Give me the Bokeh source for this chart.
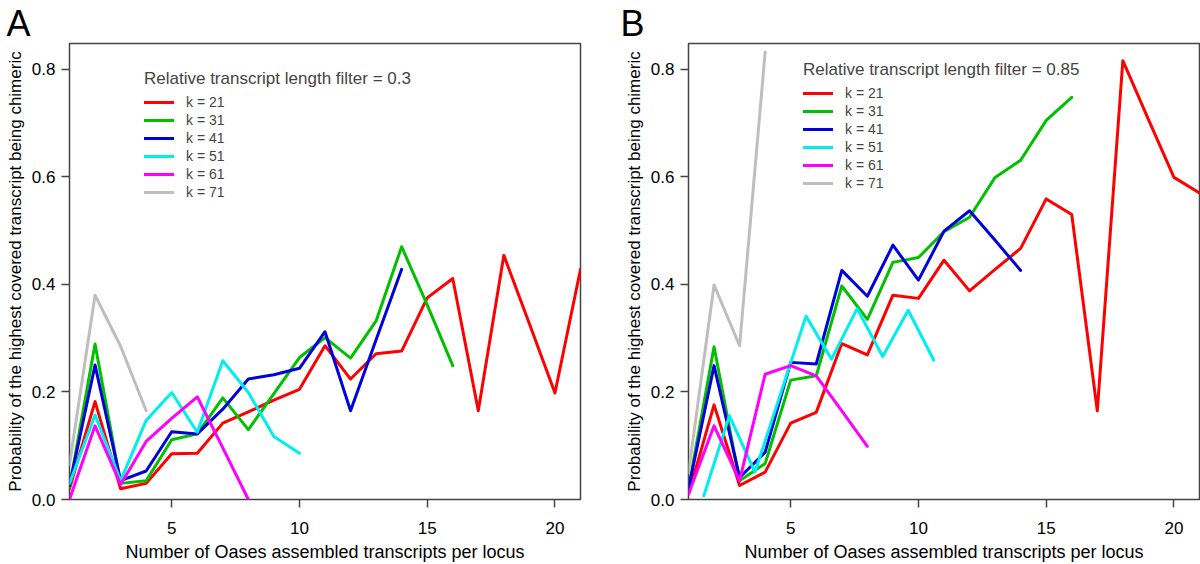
from bokeh.plotting import figure
from bokeh.layouts import row
from bokeh.models import Range1d, FixedTicker, NumeralTickFormatter, Legend, LegendItem, Title
from bokeh.embed import file_html
from bokeh.resources import INLINE

FONT = "Liberation Sans"

# ---------------- data ----------------
k_labels = ["k = 21", "k = 31", "k = 41", "k = 51", "k = 61", "k = 71"]
colors = ["#FF0000", "#00C000", "#0000DD", "#00EEEE", "#FF00FF", "#BEBEBE"]

# Panel A (relative transcript length filter = 0.3)
a_x21 = list(range(1, 22))
a_y21 = [0.020, 0.182, 0.020, 0.030, 0.085, 0.086, 0.142, 0.163, 0.185, 0.205, 0.286,
         0.224, 0.271, 0.276, 0.375, 0.411, 0.165, 0.454, 0.327, 0.198, 0.428]
a_x31 = list(range(1, 17))
a_y31 = [0.023, 0.289, 0.030, 0.035, 0.111, 0.122, 0.189, 0.130, 0.197, 0.264, 0.301,
         0.263, 0.332, 0.470, 0.362, 0.249]
a_x41 = list(range(1, 15))
a_y41 = [0.026, 0.250, 0.035, 0.053, 0.126, 0.122, 0.168, 0.224, 0.232, 0.244, 0.312,
         0.165, 0.297, 0.428]
a_x51 = list(range(1, 11))
a_y51 = [0.030, 0.157, 0.035, 0.147, 0.199, 0.125, 0.258, 0.199, 0.117, 0.086]
a_x61 = list(range(1, 9))
a_y61 = [0.000, 0.137, 0.028, 0.108, 0.151, 0.191, 0.096, 0.000]
a_x71 = list(range(1, 5))
a_y71 = [0.065, 0.380, 0.285, 0.165]

# Panel B (relative transcript length filter = 0.85)
b_x21 = list(range(1, 22))
b_y21 = [0.010, 0.176, 0.026, 0.051, 0.142, 0.162, 0.290, 0.269, 0.380, 0.374, 0.445,
         0.388, 0.428, 0.467, 0.559, 0.530, 0.165, 0.816, 0.707, 0.599, 0.570]
b_x31 = list(range(1, 17))
b_y31 = [0.020, 0.284, 0.035, 0.067, 0.222, 0.230, 0.397, 0.335, 0.441, 0.450, 0.498,
         0.525, 0.599, 0.631, 0.705, 0.748]
b_x41 = list(range(1, 15))
b_y41 = [0.020, 0.249, 0.041, 0.088, 0.255, 0.252, 0.426, 0.378, 0.473, 0.408, 0.499,
         0.537, 0.482, 0.426]
b_x51 = [1.6, 2.6, 3.6, 4.6, 5.6, 6.6, 7.6, 8.6, 9.6, 10.6]
b_y51 = [0.007, 0.156, 0.051, 0.196, 0.341, 0.261, 0.355, 0.266, 0.352, 0.259]
b_x61 = list(range(1, 9))
b_y61 = [0.010, 0.137, 0.035, 0.233, 0.249, 0.230, 0.165, 0.099]
b_x71 = list(range(1, 5))
b_y71 = [0.050, 0.399, 0.286, 0.832]

x_ticks = [5, 10, 15, 20]
y_ticks = [0.0, 0.2, 0.4, 0.6, 0.8]

x_label = "Number of Oases assembled transcripts per locus"
y_label = "Probability of the highest covered transcript being chimeric"


def make_panel(letter, series, title, width, bl, br, legend_loc, letter_off):
    p = figure(width=width, height=564, output_backend="svg", toolbar_location=None,
               x_range=Range1d(1, 21), y_range=Range1d(0, 0.848),
               min_border_left=bl, min_border_right=br, min_border_top=42,
               min_border_bottom=65)
    p.grid.visible = False
    p.outline_line_color = "#444444"
    p.outline_line_width = 1.5
    p.background_fill_color = "white"
    p.border_fill_color = "white"

    p.title = Title(text=letter, align="left", offset=letter_off, standoff=0,
                    text_font=FONT, text_font_size="36px", text_font_style="normal",
                    text_color="black")

    for ax in (p.xaxis[0], p.yaxis[0]):
        ax.axis_line_color = None
        ax.major_tick_line_color = "#444444"
        ax.major_tick_line_width = 1.5
        ax.major_tick_out = 8
        ax.major_tick_in = 0
        ax.minor_tick_line_color = None
        ax.major_label_text_font = FONT
        ax.major_label_text_font_size = "17px"
        ax.major_label_text_color = "black"
        ax.axis_label_text_font = FONT
        ax.axis_label_text_font_style = "normal"
        ax.axis_label_text_color = "black"

    p.xaxis.axis_label_text_font_size = "18px"
    p.yaxis.axis_label_text_font_size = "17px"
    p.xaxis.ticker = FixedTicker(ticks=x_ticks)
    p.yaxis.ticker = FixedTicker(ticks=y_ticks)
    p.yaxis.formatter = NumeralTickFormatter(format="0.0")
    p.xaxis.axis_label = x_label
    p.yaxis.axis_label = y_label
    p.xaxis.major_label_standoff = 14
    p.xaxis.axis_label_standoff = 5
    p.yaxis.major_label_standoff = 6
    p.yaxis.axis_label_standoff = 4

    items = []
    for (xs, ys), lab, col in zip(series, k_labels, colors):
        r = p.line(xs, ys, line_color=col, line_width=3, line_join="round", line_cap="round")
        items.append(LegendItem(label=lab, renderers=[r]))

    legend = Legend(items=items, title=title, location=legend_loc,
                    border_line_color=None, background_fill_alpha=0,
                    padding=0, margin=0, spacing=0,
                    glyph_width=30, glyph_height=18, label_height=18,
                    label_standoff=12, label_text_font=FONT, label_text_font_size="14px",
                    title_text_font=FONT, title_text_font_size="17px",
                    title_text_font_style="normal", title_standoff=4)
    p.add_layout(legend)
    return p


pA = make_panel("A",
                [(a_x21, a_y21), (a_x31, a_y31), (a_x41, a_y41),
                 (a_x51, a_y51), (a_x61, a_y61), (a_x71, a_y71)],
                "Relative transcript length filter = 0.3",
                600, 69, 20, (75, 298), -63)
pB = make_panel("B",
                [(b_x21, b_y21), (b_x31, b_y31), (b_x41, b_y41),
                 (b_x51, b_y51), (b_x61, b_y61), (b_x71, b_y71)],
                "Relative transcript length filter = 0.85",
                600, 88, 1, (115, 307), -68)

layout = row(pA, pB)
open("out.html", "w").write(file_html(layout, INLINE))
